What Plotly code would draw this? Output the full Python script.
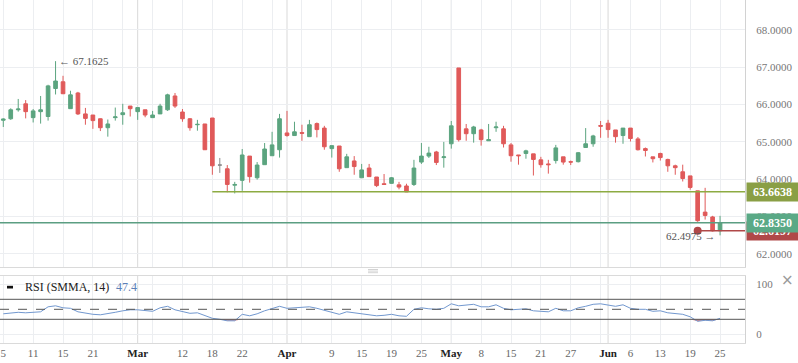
import plotly.graph_objects as go

# ---------------- data ----------------
opens = [65.58, 65.62, 65.86, 66.02, 65.65, 65.81, 65.68, 66.43, 66.61, 65.89,
         66.31, 65.75, 65.72, 65.62, 65.38, 65.65, 65.73, 65.96, 65.81, 65.86,
         65.65, 65.75, 65.86, 66.23, 65.80, 65.62, 65.46, 65.48, 65.64, 64.38,
         64.28, 63.84, 63.97, 64.62, 64.04, 64.39, 64.63, 64.79, 65.24, 65.17,
         65.25, 65.14, 65.49, 65.37, 64.82, 64.89, 64.31, 64.49, 64.04, 64.30,
         64.06, 63.88, 63.89, 63.85, 63.82, 63.86, 64.46, 64.62, 64.73, 64.58,
         64.95, 66.98, 65.35, 65.22, 65.32, 65.03, 65.38, 65.35, 64.92, 64.65,
         64.69, 64.68, 64.52, 64.41, 64.50, 64.60, 64.47, 64.47, 64.85, 64.95,
         65.44, 65.50, 65.32, 65.17, 65.37, 65.08, 64.82, 64.60, 64.69, 64.53,
         64.36, 64.20, 64.09, 63.69, 63.12, 62.99, 62.62]
highs = [65.63, 65.90, 66.15, 66.12, 65.88, 66.23, 66.53, 67.1625, 66.77, 66.37,
         66.34, 65.91, 65.72, 65.63, 65.60, 65.92, 66.02, 65.96, 65.92, 65.86,
         65.83, 66.02, 66.29, 66.31, 65.88, 65.64, 65.59, 65.48, 65.64, 64.57,
         64.38, 63.93, 64.81, 64.62, 64.46, 64.97, 65.27, 65.75, 65.83, 65.54,
         65.46, 65.59, 65.52, 65.43, 64.90, 64.89, 64.68, 64.62, 64.41, 64.41,
         64.06, 64.14, 64.06, 63.93, 63.88, 64.52, 64.97, 64.87, 64.76, 65.00,
         65.56, 66.98, 65.48, 65.43, 65.35, 65.48, 65.54, 65.43, 64.97, 64.65,
         64.79, 64.68, 64.60, 64.52, 64.92, 64.60, 64.50, 64.73, 65.37, 65.19,
         65.56, 65.59, 65.32, 65.37, 65.37, 65.13, 64.85, 64.60, 64.71, 64.55,
         64.39, 64.39, 64.09, 63.69, 63.77, 63.02, 63.02]
lows = [65.40, 65.59, 65.81, 65.63, 65.52, 65.49, 65.57, 66.27, 66.28, 65.89,
        65.72, 65.46, 65.35, 65.29, 65.14, 65.57, 65.46, 65.68, 65.59, 65.66,
        65.65, 65.75, 65.83, 65.91, 65.54, 65.30, 65.30, 64.79, 64.12, 64.17,
        63.65, 63.62, 63.69, 63.91, 63.99, 64.39, 64.63, 64.58, 65.14, 65.17,
        65.03, 65.14, 65.12, 64.79, 64.58, 64.20, 64.31, 64.12, 64.04, 64.07,
        63.79, 63.86, 63.88, 63.73, 63.66, 63.82, 64.41, 64.57, 64.38, 64.31,
        64.82, 65.01, 65.03, 64.98, 64.90, 65.03, 65.27, 64.85, 64.47, 64.39,
        64.55, 64.10, 64.31, 64.15, 64.42, 64.39, 64.38, 64.45, 64.85, 64.87,
        65.11, 65.11, 64.98, 64.95, 65.01, 64.77, 64.61, 64.45, 64.50, 64.20,
        64.12, 63.94, 63.72, 62.86, 62.92, 62.60, 62.4975]
closes = [65.61, 65.86, 65.88, 65.81, 65.83, 65.86, 66.50, 66.63, 66.29, 66.26,
          65.75, 65.63, 65.57, 65.38, 65.48, 65.67, 65.78, 65.89, 65.92, 65.72,
          65.72, 65.96, 66.26, 65.96, 65.62, 65.38, 65.47, 64.79, 64.36, 64.38,
          63.86, 63.86, 64.65, 64.07, 64.38, 64.81, 64.92, 65.62, 65.17, 65.27,
          65.23, 65.46, 65.33, 64.87, 64.90, 64.28, 64.60, 64.34, 64.25, 64.07,
          63.83, 63.86, 64.04, 63.79, 63.66, 64.30, 64.62, 64.70, 64.45, 64.60,
          65.43, 65.06, 65.22, 65.40, 65.06, 65.06, 65.40, 64.95, 64.63, 64.63,
          64.76, 64.53, 64.39, 64.39, 64.84, 64.46, 64.46, 64.71, 64.95, 65.16,
          65.42, 65.33, 65.14, 65.37, 65.09, 64.79, 64.77, 64.55, 64.58, 64.36,
          64.31, 64.02, 63.78, 62.89, 63.03, 62.6197, 62.835]
unchanged_idx = [29]   # drawn grey (open == close)

rsi = [41, 43, 44, 43, 44, 45, 55, 57, 53, 52,
       45, 42, 40, 39, 41, 44, 47, 49, 49, 47,
       46, 53, 56, 49, 45, 42, 43, 37, 32, 30,
       27, 27, 40, 37, 41, 47, 52, 56, 52, 53,
       53, 55, 52, 48, 45, 40, 45, 43, 42, 40,
       37, 38, 40, 37, 36, 50, 53, 51, 50, 52,
       61, 57, 58, 60, 55, 55, 59, 52, 49, 50,
       51, 47, 46, 45, 52, 47, 47, 53, 56, 60,
       61, 59, 56, 59, 52, 50, 50, 46, 47, 43,
       42, 40, 35, 26, 28, 27, 32]

tick_pos = [0, 4, 8, 12, 18, 24, 28, 32, 38, 44, 48, 52, 56, 60, 64, 68, 72, 76, 81, 84, 88, 92, 96]
tick_lbl = ["5", "11", "15", "21", "Mar", "12", "18", "22", "Apr", "9", "15", "19", "25",
            "May", "8", "15", "21", "27", "Jun", "6", "13", "19", "25"]
month_pos = [18, 38, 60, 81]
grid_pos = list(range(0, 97, 4))

support_level = 63.6638
support_start = 28
last_price = 62.835
prev_close = 62.6197
prev_close_start = 93
hi_val, hi_idx = 67.1625, 7
lo_val, lo_idx = 62.4975, 96
rsi_label = "47.4"

# ---------------- styling ----------------
FONT = "Liberation Serif"
GREEN = "#5ba47f"
RED = "#e05a5a"
GREY = "#8a8a8a"
GRID = "#eceef1"
MONTH = "#d9d9d9"
XR = [-0.44, 99.34]

n = len(opens)
idx = list(range(n))
main_idx = [i for i in idx if i not in unchanged_idx]

fig = go.Figure()
fig.add_trace(go.Candlestick(
    x=main_idx,
    open=[opens[i] for i in main_idx], high=[highs[i] for i in main_idx],
    low=[lows[i] for i in main_idx], close=[closes[i] for i in main_idx],
    increasing=dict(line=dict(color=GREEN, width=1), fillcolor=GREEN),
    decreasing=dict(line=dict(color=RED, width=1), fillcolor=RED),
    whiskerwidth=0, xaxis="x", yaxis="y", showlegend=False, hoverinfo="skip"))
fig.add_trace(go.Candlestick(
    x=unchanged_idx,
    open=[opens[i] for i in unchanged_idx], high=[highs[i] for i in unchanged_idx],
    low=[lows[i] for i in unchanged_idx], close=[closes[i] for i in unchanged_idx],
    increasing=dict(line=dict(color=GREY, width=1), fillcolor=GREY),
    decreasing=dict(line=dict(color=GREY, width=1), fillcolor=GREY),
    whiskerwidth=0, xaxis="x", yaxis="y", showlegend=False, hoverinfo="skip"))

# previous-close dot
fig.add_trace(go.Scatter(x=[prev_close_start], y=[prev_close], mode="markers",
                         marker=dict(color="#b04848", size=8), xaxis="x", yaxis="y",
                         showlegend=False, hoverinfo="skip"))

# RSI oversold fill + line
fig.add_trace(go.Scatter(x=idx, y=[30] * n, mode="lines", line=dict(width=0),
                         xaxis="x2", yaxis="y2", showlegend=False, hoverinfo="skip"))
fig.add_trace(go.Scatter(x=idx, y=[min(v, 30) for v in rsi], mode="lines",
                         line=dict(width=0), fill="tonexty", fillcolor="rgba(200,90,90,0.75)",
                         xaxis="x2", yaxis="y2", showlegend=False, hoverinfo="skip"))
fig.add_trace(go.Scatter(x=idx, y=rsi, mode="lines", line=dict(color="#7298cf", width=1),
                         xaxis="x2", yaxis="y2", showlegend=False, hoverinfo="skip"))

shapes = []
for m in month_pos:
    shapes.append(dict(type="line", xref="x", yref="y domain", x0=m, x1=m, y0=0, y1=1,
                       line=dict(color=MONTH, width=1), layer="below"))
    shapes.append(dict(type="line", xref="x2", yref="y2 domain", x0=m, x1=m, y0=0, y1=1,
                       line=dict(color=MONTH, width=1), layer="below"))
shapes.append(dict(type="line", xref="x", yref="y", x0=support_start, x1=XR[1],
                   y0=support_level, y1=support_level, line=dict(color="#8dab42", width=1.5)))
shapes.append(dict(type="line", xref="x", yref="y", x0=XR[0], x1=XR[1],
                   y0=last_price, y1=last_price, line=dict(color="#5b9e82", width=1.5)))
shapes.append(dict(type="line", xref="x", yref="y", x0=prev_close_start, x1=XR[1],
                   y0=prev_close, y1=prev_close, line=dict(color="#b04848", width=1.5)))
for lvl, dash in [(70, "solid"), (30, "solid"), (50, "dash")]:
    shapes.append(dict(type="line", xref="x2 domain", yref="y2", x0=0, x1=1, y0=lvl, y1=lvl,
                       line=dict(color="#555555", width=1, dash=dash)))
# separator handle
for k in range(3):
    yy = (343 - (269.5 + 1.6 * k)) / 343
    shapes.append(dict(type="line", xref="paper", yref="paper", x0=368 / 745, x1=378 / 745,
                       y0=yy, y1=yy, line=dict(color="#c8c8c8", width=0.8)))
# RSI legend marker
shapes.append(dict(type="rect", xref="paper", yref="paper", x0=7 / 745, x1=13 / 745,
                   y0=(343 - 288.5) / 343, y1=(343 - 285.8) / 343,
                   fillcolor="#111111", line=dict(width=0)))

ann = []
ann.append(dict(x=hi_idx, y=hi_val, xref="x", yref="y", xanchor="left", yanchor="middle",
                xshift=1, text="\u2190 " + f"{hi_val:.4f}", showarrow=False,
                font=dict(family=FONT, size=11, color="#555555")))
ann.append(dict(x=lo_idx, y=lo_val, xref="x", yref="y", xanchor="right", yanchor="middle",
                xshift=-2, yshift=-1, text=f"{lo_val:.4f}" + " \u2192", showarrow=False,
                font=dict(family=FONT, size=11, color="#555555")))
for val, bg in [(support_level, "#8a9f45"), (prev_close, "#b04848"), (last_price, "#5aa986")]:
    ann.append(dict(x=1, y=val, xref="paper", yref="y", xanchor="left", yanchor="middle",
                    xshift=1, text=f"<b>{val:.4f}</b>", showarrow=False, bgcolor=bg,
                    width=49, height=16, borderpad=1, align="center",
                    font=dict(family=FONT, size=12, color="white")))
ann.append(dict(x=23 / 745, y=(343 - 287) / 343, xref="paper", yref="paper", xanchor="left",
                yanchor="middle", text="RSI (SMMA, 14)", showarrow=False,
                font=dict(family=FONT, size=12, color="#222222")))
ann.append(dict(x=114 / 745, y=(343 - 287) / 343, xref="paper", yref="paper", xanchor="left",
                yanchor="middle", text=rsi_label, showarrow=False,
                font=dict(family=FONT, size=12, color="#5b80b8")))
ann.append(dict(x=787 / 745, y=(343 - 280) / 343, xref="paper", yref="paper", xanchor="center",
                yanchor="middle", text="\u00d7", showarrow=False,
                font=dict(family="DejaVu Sans", size=15, color="#999999")))

tick_txt = [f"<b><span style='color:#222'>{t}</span></b>" if p in month_pos else t
            for p, t in zip(tick_pos, tick_lbl)]

axis_common = dict(showgrid=False, zeroline=False, showline=True, linecolor="#dadada",
                   minor=dict(tickvals=grid_pos, showgrid=True, gridcolor=GRID, gridwidth=1))

fig.update_layout(
    width=798, height=363,
    margin=dict(l=0, r=53, t=0, b=20),
    paper_bgcolor="white", plot_bgcolor="white",
    font=dict(family=FONT, size=11, color="#666666"),
    showlegend=False,
    xaxis=dict(domain=[0, 1], range=XR, anchor="y", showticklabels=False,
               rangeslider=dict(visible=False), **axis_common),
    xaxis2=dict(domain=[0, 1], range=XR, anchor="y2", matches="x", mirror=True,
                tickmode="array", tickvals=tick_pos, ticktext=tick_txt, ticks="",
                tickfont=dict(family=FONT, size=11, color="#666666"),
                rangeslider=dict(visible=False), **axis_common),
    yaxis=dict(domain=[1 - 267 / 343, 1], range=[61.65, 68.80], side="right", anchor="x",
               tickmode="array", tickvals=[62, 63, 64, 65, 66, 67, 68],
               ticktext=[f"{v:.4f}" for v in [62, 63, 64, 65, 66, 67, 68]],
               showgrid=True, gridcolor=GRID, zeroline=False, showline=True,
               linecolor="#d2d2d2", ticks="", ticklabelstandoff=8,
               tickfont=dict(family=FONT, size=11, color="#777777")),
    yaxis2=dict(domain=[0, (343 - 276) / 343], range=[-17.4, 116.6], side="right", anchor="x2",
                tickmode="array", tickvals=[0, 100], ticktext=["0", "100"],
                showgrid=True, gridcolor=GRID, zeroline=False, showline=True,
                linecolor="#d2d2d2", ticks="", ticklabelstandoff=8,
                tickfont=dict(family=FONT, size=11, color="#777777")),
    shapes=shapes, annotations=ann,
)

fig.write_html("out.html", config={"displayModeBar": False},
               post_script="document.body.style.margin='0';")
